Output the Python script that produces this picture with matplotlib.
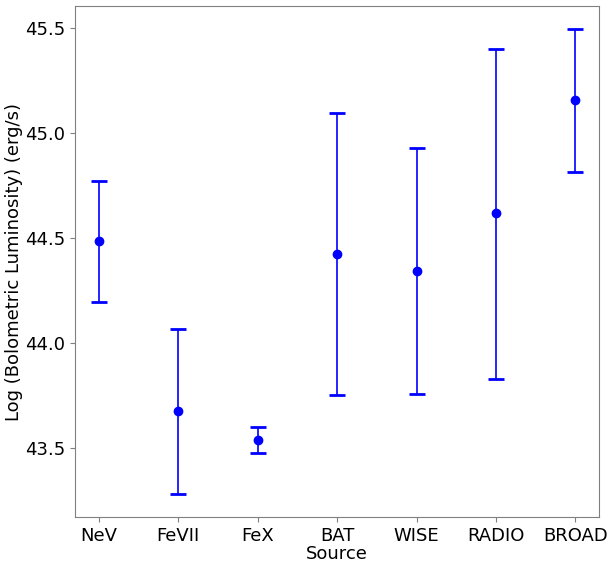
import numpy as np
import matplotlib
matplotlib.use("Agg")
import matplotlib.pyplot as plt

# data
sources = ["NeV", "FeVII", "FeX", "BAT", "WISE", "RADIO", "BROAD"]
lum = [44.484, 43.675, 43.538, 44.424, 44.344, 44.618, 45.157]
lum_hi = [44.773, 44.067, 43.601, 45.095, 44.932, 45.403, 45.495]
lum_lo = [44.195, 43.282, 43.478, 43.754, 43.759, 43.829, 44.817]

lum = np.array(lum)
yerr = [lum - np.array(lum_lo), np.array(lum_hi) - lum]

plt.rcParams['font.size'] = 13
fig = plt.figure(figsize=(6.09, 5.63), dpi=100)
ax = fig.add_axes([0.123, 0.082, 0.861, 0.907])

x = np.arange(len(sources))
ax.errorbar(x, lum, yerr=yerr, fmt='o', color='blue', ecolor='blue',
            markersize=6, elinewidth=1.2, capsize=5.5, capthick=2)

ax.set_xticks(x)
ax.set_xticklabels(sources)
ax.set_yticks([43.5, 44.0, 44.5, 45.0, 45.5])
ax.set_xlabel("Source", labelpad=0)
ax.set_ylabel("Log (Bolometric Luminosity) (erg/s)", labelpad=1.5)

for s in ax.spines.values():
    s.set_color('#808080')
ax.tick_params(color='#808080')

fig.savefig("out.png", dpi=100)
